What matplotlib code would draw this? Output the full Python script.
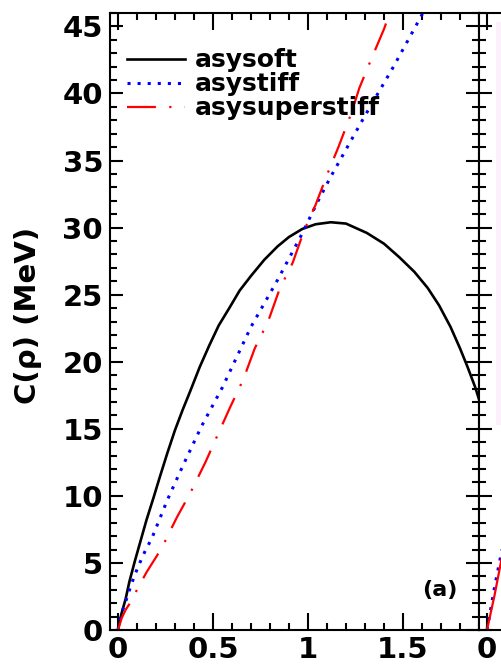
import matplotlib
matplotlib.use("Agg")
import matplotlib.pyplot as plt
from matplotlib.patches import Rectangle
from matplotlib.ticker import MultipleLocator, FuncFormatter

# values (rho in units of rho0, C in MeV)
rho_soft = [0, 0.01, 0.02, 0.04, 0.06, 0.09, 0.12, 0.15, 0.19, 0.22, 0.26,
            0.30, 0.34, 0.38, 0.43, 0.48, 0.53, 0.59, 0.64, 0.70, 0.77, 0.84,
            0.90, 0.97, 1.04, 1.12, 1.20, 1.31, 1.40, 1.48, 1.56, 1.63, 1.69,
            1.75, 1.80, 1.84, 1.88, 1.90]
c_soft = [0, 0.7, 1.3, 2.3, 3.6, 5.2, 6.7, 8.2, 10.0, 11.4, 13.2,
          14.9, 16.4, 17.8, 19.6, 21.2, 22.7, 24.1, 25.3, 26.4, 27.6, 28.6,
          29.3, 29.9, 30.25, 30.4, 30.3, 29.6, 28.8, 27.8, 26.7, 25.5, 24.2,
          22.6, 21.0, 19.6, 18.1, 17.2]

rho_stiff = [0, 0.01, 0.02, 0.04, 0.07, 0.105, 0.14, 0.18, 0.22, 0.26, 0.34,
             0.44, 0.55, 0.70, 0.84, 0.96, 1.05, 1.12, 1.29, 1.45, 1.605]
c_stiff = [0, 0.75, 1.3, 2.1, 3.4, 4.7, 5.8, 6.9, 8.3, 9.7, 12.2,
           15.2, 18.1, 22.6, 26.1, 29.3, 31.9, 33.8, 38.1, 42.0, 46.0]

rho_super = [0, 0.02, 0.04, 0.063, 0.10, 0.15, 0.23, 0.31, 0.38, 0.46, 0.52,
             0.59, 0.66, 0.72, 0.79, 0.85, 0.92, 0.98, 1.04, 1.105, 1.16,
             1.23, 1.27, 1.34, 1.40, 1.43]
c_super = [0, 0.9, 1.5, 2.0, 3.0, 4.3, 6.1, 8.4, 10.2, 12.5, 14.4,
           16.6, 18.7, 21.0, 23.0, 25.4, 27.4, 29.8, 31.7, 34.1, 36.0,
           38.6, 40.4, 42.8, 44.8, 46.0]

# the neighbouring panel (only its first few pixels are visible)
rho_b = [0, 0.04, 0.1]
c_b_stiff = [0, 3.2, 7.5]
c_b_super = [0, 2.6, 7.0]

labels = ["asysoft", "asystiff", "asysuperstiff"]

plt.rcParams['font.family'] = 'DejaVu Sans'
plt.rcParams['font.weight'] = 'bold'

W, H = 501, 665
fig = plt.figure(figsize=(W / 100, H / 100), dpi=100)

x0, x1, y0, y1 = 110, 479, 13, 630
ax = fig.add_axes([x0 / W, 1 - y1 / H, (x1 - x0) / W, (y1 - y0) / H])
ax2 = fig.add_axes([x1 / W, 1 - y1 / H, (x1 - x0) / W, (y1 - y0) / H])

ax.plot(rho_soft, c_soft, color='black', lw=1.9, label=labels[0])
ax.plot(rho_stiff, c_stiff, color='blue', lw=2.2, linestyle=(0, (1, 2.3)),
        label=labels[1])
ax.plot(rho_super, c_super, color='red', lw=1.6, linestyle=(0, (13, 6, 1, 6)),
        label=labels[2])

ax2.plot(rho_b, c_b_stiff, color='blue', lw=2.2, linestyle=(0, (1, 2.3)))
ax2.plot(rho_b, c_b_super, color='red', lw=1.6)

fmt = FuncFormatter(lambda v, p: f"{v:g}")
for a in (ax, ax2):
    a.set_xlim(-0.042, 1.9)
    a.set_ylim(0, 46)
    a.xaxis.set_major_locator(MultipleLocator(0.5))
    a.xaxis.set_minor_locator(MultipleLocator(0.1))
    a.yaxis.set_major_locator(MultipleLocator(5))
    a.yaxis.set_minor_locator(MultipleLocator(1))
    a.xaxis.set_major_formatter(fmt)
    a.tick_params(which='both', direction='in', top=True, right=True,
                  width=1.5, labelsize=21)
    a.tick_params(axis='x', which='major', length=12, pad=4)
    a.tick_params(axis='y', which='major', length=9.5, pad=5)
    a.tick_params(which='minor', length=5)
    for s in a.spines.values():
        s.set_linewidth(1.5)
ax2.tick_params(axis='y', labelleft=False)
# only the first label of the next panel falls inside the picture
ax2.xaxis.set_major_formatter(FuncFormatter(lambda v, p: "0" if abs(v) < 1e-9 else ""))

ax.set_ylabel("C(ρ) (MeV)", fontsize=21, fontweight='bold')
ax.yaxis.set_label_coords(-0.184, 0.51)

ax.text(0.894, 0.065, "(a)", transform=ax.transAxes, fontsize=16,
        fontweight='bold', ha='center', va='center')

ax.legend(loc='upper left', bbox_to_anchor=(0.026, 0.955), borderaxespad=0,
          frameon=False, handlelength=2.3, handletextpad=0.4,
          borderpad=0.3, labelspacing=0.0,
          prop={'weight': 'bold', 'size': 18})

fig.patches.append(Rectangle((496 / W, 1 - 425 / H), 10 / W, (425 - 22) / H,
                             transform=fig.transFigure, facecolor='#fcf0fc',
                             edgecolor='none', zorder=5))

fig.savefig("out.png", dpi=100)
